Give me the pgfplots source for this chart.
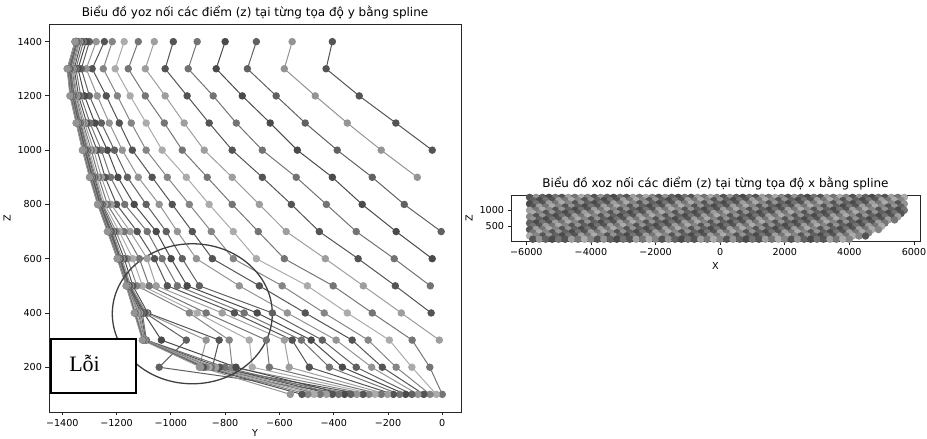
\documentclass[border=0pt]{standalone}
\usepackage{fontspec}
\setmainfont{DejaVu Sans}
\newfontfamily\vnserif{Liberation Serif}
\usepackage{pgfplots}
\usepackage{pgfplotstable}
\pgfplotsset{compat=1.18}

% grey versions of the matplotlib default cycle (scan is greyscale)
\definecolor{g0}{gray}{0.33}
\definecolor{g1}{gray}{0.58}
\definecolor{g2}{gray}{0.38}
\definecolor{g3}{gray}{0.29}
\definecolor{g4}{gray}{0.45}
\definecolor{g5}{gray}{0.33}
\definecolor{g6}{gray}{0.62}
\definecolor{g7}{gray}{0.46}
\definecolor{g8}{gray}{0.67}
\definecolor{g9}{gray}{0.52}

% y position of each line k at every z level (yoz view)
\pgfplotstableread{
z k0 k1 k2 k3 k4 k5 k6 k7 k8 k9 k10 k11 k12 k13 k14 k15 k16 k17 k18 k19 k20 k21 k22 k23 k24 k25 k26 k27 k28 k29 k30 k31
1400 -405 -553 -685 -800 -903 -991 -1061 -1120 -1172 -1216 -1245 -1275 -1300 -1312 -1322 -1330 -1336 -1340 -1343 -1345 -1346 -1347 -1348 -1349 -1350 -1350 -1351 -1351 -1352 -1352 -1353 -1353
1300 -428 -582 -718 -833 -936 -1021 -1094 -1157 -1205 -1249 -1290 -1312 -1330 -1342 -1350 -1356 -1360 -1364 -1367 -1369 -1371 -1373 -1374 -1375 -1376 -1377 -1378 -1379 -1380 -1380 -1381 -1382
1200 -306 -468 -612 -737 -844 -940 -1021 -1094 -1150 -1197 -1238 -1271 -1300 -1318 -1332 -1340 -1346 -1350 -1353 -1356 -1358 -1360 -1362 -1363 -1364 -1365 -1366 -1367 -1368 -1369 -1370 -1372
1100 -171 -350 -505 -634 -759 -859 -951 -1024 -1091 -1146 -1190 -1227 -1256 -1280 -1298 -1310 -1318 -1324 -1328 -1332 -1335 -1337 -1339 -1341 -1342 -1343 -1344 -1345 -1346 -1347 -1348 -1349
1000 -37 -225 -387 -534 -663 -774 -877 -958 -1032 -1091 -1142 -1179 -1208 -1234 -1256 -1272 -1284 -1293 -1300 -1305 -1309 -1312 -1315 -1317 -1319 -1320 -1321 -1322 -1323 -1324 -1325 -1326
900 nan -92 -258 -405 -538 -663 -774 -866 -943 -1013 -1069 -1120 -1160 -1195 -1222 -1242 -1256 -1266 -1273 -1278 -1282 -1285 -1288 -1290 -1292 -1293 -1294 -1295 -1296 -1297 -1298 -1300
800 nan nan -140 -295 -427 -556 -674 -774 -859 -932 -995 -1043 -1091 -1135 -1170 -1200 -1220 -1234 -1244 -1250 -1254 -1257 -1259 -1261 -1263 -1264 -1265 -1266 -1267 -1268 -1269 -1270
700 nan nan -4 -170 -317 -453 -575 -678 -770 -851 -921 -976 -1017 -1054 -1087 -1124 -1150 -1172 -1190 -1202 -1210 -1215 -1219 -1222 -1224 -1226 -1228 -1229 -1230 -1231 -1232 -1234
600 nan nan nan -37 -177 -310 -431 -582 -685 -770 -847 -906 -958 -999 -1032 -1060 -1087 -1116 -1140 -1160 -1172 -1180 -1185 -1188 -1190 -1192 -1193 -1194 -1195 -1196 -1197 -1198
500 nan nan nan nan -44 -173 -291 -402 -497 -590 -674 -748 -895 -940 -976 -1013 -1054 -1080 -1105 -1125 -1140 -1148 -1152 -1155 -1157 -1159 -1160 -1161 -1162 -1163 -1164 -1165
400 nan nan nan nan nan -41 -151 -258 -350 -435 -505 -571 -626 -682 -730 -766 -811 -870 -903 -932 -1085 -1090 -1095 -1100 -1105 -1110 -1115 -1120 -1125 -1130 -1133 -1135
300 nan nan nan nan nan nan -11 -111 -195 -273 -332 -391 -442 -483 -519 -553 -582 -648 -711 -785 -822 -870 -943 -1035 -1090 -1093 -1095 -1097 -1099 -1101 -1103 -1105
200 nan nan nan nan nan nan nan -46 -112 -170 -221 -260 -317 -368 -416 -490 -564 -637 -700 -774 -847 -895 -1043 -760 -800 -820 -835 -850 -860 -870 -880 -890
100 nan nan nan nan nan nan nan 0 -22 -45 -68 -90 -112 -135 -157 -180 -202 -225 -248 -270 -292 -315 -337 -360 -382 -405 -427 -450 -472 -495 -517 -560
}\yoz

% x position of each column c at every z level (xoz view)
\pgfplotstableread{
z c0 c1 c2 c3 c4 c5 c6 c7 c8 c9 c10 c11 c12 c13 c14 c15 c16 c17 c18 c19 c20 c21 c22 c23 c24 c25 c26 c27 c28 c29 c30 c31 c32 c33 c34 c35 c36 c37 c38 c39 c40 c41 c42 c43 c44 c45 c46 c47 c48 c49 c50 c51 c52 c53 c54 c55 c56 c57 c58 c59 c60 c61 c62 c63 c64 c65 c66 c67 c68 c69 c70
1400 -5900 -5700 -5500 -5300 -5100 -4900 -4700 -4500 -4300 -4100 -3900 -3700 -3500 -3300 -3100 -2900 -2700 -2500 -2300 -2100 -1900 -1700 -1500 -1300 -1100 -900 -700 -500 -300 -100 100 300 500 700 900 1100 1300 1500 1700 1900 2100 2300 2500 2700 2900 3100 3300 3500 3700 3900 4100 4300 4500 4700 4900 5100 5300 5500 5700 nan nan nan nan nan nan nan nan nan nan nan nan
1300 nan nan -5800 -5600 -5400 -5200 -5000 -4800 -4600 -4400 -4200 -4000 -3800 -3600 -3400 -3200 -3000 -2800 -2600 -2400 -2200 -2000 -1800 -1600 -1400 -1200 -1000 -800 -600 -400 -200 0 200 400 600 800 1000 1200 1400 1600 1800 2000 2200 2400 2600 2800 3000 3200 3400 3600 3800 4000 4200 4400 4600 4800 5000 5200 5400 5600 nan nan nan nan nan nan nan nan nan nan nan
1200 nan nan nan -5900 -5700 -5500 -5300 -5100 -4900 -4700 -4500 -4300 -4100 -3900 -3700 -3500 -3300 -3100 -2900 -2700 -2500 -2300 -2100 -1900 -1700 -1500 -1300 -1100 -900 -700 -500 -300 -100 100 300 500 700 900 1100 1300 1500 1700 1900 2100 2300 2500 2700 2900 3100 3300 3500 3700 3900 4100 4300 4500 4700 4900 5100 5300 5500 5700 nan nan nan nan nan nan nan nan nan
1100 nan nan nan nan nan -5800 -5600 -5400 -5200 -5000 -4800 -4600 -4400 -4200 -4000 -3800 -3600 -3400 -3200 -3000 -2800 -2600 -2400 -2200 -2000 -1800 -1600 -1400 -1200 -1000 -800 -600 -400 -200 0 200 400 600 800 1000 1200 1400 1600 1800 2000 2200 2400 2600 2800 3000 3200 3400 3600 3800 4000 4200 4400 4600 4800 5000 5200 5400 5600 nan nan nan nan nan nan nan nan
1000 nan nan nan nan nan nan -5900 -5700 -5500 -5300 -5100 -4900 -4700 -4500 -4300 -4100 -3900 -3700 -3500 -3300 -3100 -2900 -2700 -2500 -2300 -2100 -1900 -1700 -1500 -1300 -1100 -900 -700 -500 -300 -100 100 300 500 700 900 1100 1300 1500 1700 1900 2100 2300 2500 2700 2900 3100 3300 3500 3700 3900 4100 4300 4500 4700 4900 5100 5300 5500 5700 nan nan nan nan nan nan
900 nan nan nan nan nan nan nan nan -5800 -5600 -5400 -5200 -5000 -4800 -4600 -4400 -4200 -4000 -3800 -3600 -3400 -3200 -3000 -2800 -2600 -2400 -2200 -2000 -1800 -1600 -1400 -1200 -1000 -800 -600 -400 -200 0 200 400 600 800 1000 1200 1400 1600 1800 2000 2200 2400 2600 2800 3000 3200 3400 3600 3800 4000 4200 4400 4600 4800 5000 5200 5400 5600 nan nan nan nan nan
800 nan nan nan nan nan nan nan nan nan -5900 -5700 -5500 -5300 -5100 -4900 -4700 -4500 -4300 -4100 -3900 -3700 -3500 -3300 -3100 -2900 -2700 -2500 -2300 -2100 -1900 -1700 -1500 -1300 -1100 -900 -700 -500 -300 -100 100 300 500 700 900 1100 1300 1500 1700 1900 2100 2300 2500 2700 2900 3100 3300 3500 3700 3900 4100 4300 4500 4700 4900 5100 5300 5500 nan nan nan nan
700 nan nan nan nan nan nan nan nan nan nan nan -5800 -5600 -5400 -5200 -5000 -4800 -4600 -4400 -4200 -4000 -3800 -3600 -3400 -3200 -3000 -2800 -2600 -2400 -2200 -2000 -1800 -1600 -1400 -1200 -1000 -800 -600 -400 -200 0 200 400 600 800 1000 1200 1400 1600 1800 2000 2200 2400 2600 2800 3000 3200 3400 3600 3800 4000 4200 4400 4600 4800 5000 5200 5400 nan nan nan
600 nan nan nan nan nan nan nan nan nan nan nan nan -5900 -5700 -5500 -5300 -5100 -4900 -4700 -4500 -4300 -4100 -3900 -3700 -3500 -3300 -3100 -2900 -2700 -2500 -2300 -2100 -1900 -1700 -1500 -1300 -1100 -900 -700 -500 -300 -100 100 300 500 700 900 1100 1300 1500 1700 1900 2100 2300 2500 2700 2900 3100 3300 3500 3700 3900 4100 4300 4500 4700 4900 5100 nan nan nan
500 nan nan nan nan nan nan nan nan nan nan nan nan nan nan -5800 -5600 -5400 -5200 -5000 -4800 -4600 -4400 -4200 -4000 -3800 -3600 -3400 -3200 -3000 -2800 -2600 -2400 -2200 -2000 -1800 -1600 -1400 -1200 -1000 -800 -600 -400 -200 0 200 400 600 800 1000 1200 1400 1600 1800 2000 2200 2400 2600 2800 3000 3200 3400 3600 3800 4000 4200 4400 4600 4800 5000 nan nan
400 nan nan nan nan nan nan nan nan nan nan nan nan nan nan nan -5900 -5700 -5500 -5300 -5100 -4900 -4700 -4500 -4300 -4100 -3900 -3700 -3500 -3300 -3100 -2900 -2700 -2500 -2300 -2100 -1900 -1700 -1500 -1300 -1100 -900 -700 -500 -300 -100 100 300 500 700 900 1100 1300 1500 1700 1900 2100 2300 2500 2700 2900 3100 3300 3500 3700 3900 4100 4300 4500 4700 4900 nan
300 nan nan nan nan nan nan nan nan nan nan nan nan nan nan nan nan nan -5800 -5600 -5400 -5200 -5000 -4800 -4600 -4400 -4200 -4000 -3800 -3600 -3400 -3200 -3000 -2800 -2600 -2400 -2200 -2000 -1800 -1600 -1400 -1200 -1000 -800 -600 -400 -200 0 200 400 600 800 1000 1200 1400 1600 1800 2000 2200 2400 2600 2800 3000 3200 3400 3600 3800 4000 4200 4400 4600 nan
200 nan nan nan nan nan nan nan nan nan nan nan nan nan nan nan nan nan nan -5900 -5700 -5500 -5300 -5100 -4900 -4700 -4500 -4300 -4100 -3900 -3700 -3500 -3300 -3100 -2900 -2700 -2500 -2300 -2100 -1900 -1700 -1500 -1300 -1100 -900 -700 -500 -300 -100 100 300 500 700 900 1100 1300 1500 1700 1900 2100 2300 2500 2700 2900 3100 3300 3500 3700 3900 4100 4300 4500
100 nan nan nan nan nan nan nan nan nan nan nan nan nan nan nan nan nan nan nan nan -5800 -5600 -5400 -5200 -5000 -4800 -4600 -4400 -4200 -4000 -3800 -3600 -3400 -3200 -3000 -2800 -2600 -2400 -2200 -2000 -1800 -1600 -1400 -1200 -1000 -800 -600 -400 -200 0 200 400 600 800 1000 1200 1400 1600 1800 2000 2200 2400 2600 2800 3000 3200 3400 3600 3800 4000 nan
}\xoz

\pgfplotsset{
  mpl/.style={
    scale only axis,
    anchor=south west,
    axis line style={black!85, line width=0.8pt},
    tick style={black!85, line width=0.8pt},
    tick align=outside,
    major tick length=3.5pt,
    xtick pos=bottom, ytick pos=left,
    tick label style={font=\fontsize{9.6}{11}\selectfont},
    label style={font=\fontsize{9.6}{11}\selectfont},
    title style={font=\fontsize{12}{14}\selectfont, yshift=-4.5pt},
    cycle list={{g0,mark=*},{g1,mark=*},{g2,mark=*},{g3,mark=*},{g4,mark=*},
                {g5,mark=*},{g6,mark=*},{g7,mark=*},{g8,mark=*},{g9,mark=*}},
    every axis plot/.append style={line width=1pt, mark size=3.2pt},
  },
}

\begin{document}
\begin{tikzpicture}
\useasboundingbox (0,0) rectangle (927pt,439pt);

% ---- left: yoz view ----
\begin{axis}[mpl,
  at={(49pt,27pt)}, width=412pt, height=388pt,
  xmin=-1449, xmax=69, ymin=35, ymax=1465,
  xtick={-1400,-1200,-1000,-800,-600,-400,-200,0},
  xticklabels={−1400,−1200,−1000,−800,−600,−400,−200,0},
  ytick={200,400,600,800,1000,1200,1400},
  yticklabels={200,400,600,800,1000,1200,1400},
  title={Biểu đồ yoz nối các điểm (z) tại từng tọa độ y bằng spline},
  xlabel={Y}, ylabel={Z},
  xlabel style={yshift=4pt},
]
\pgfplotsinvokeforeach{0,...,31}{\addplot table[x=k#1,y=z]{\yoz};}
\draw[black!75, line width=1.3pt] (axis cs:-921,397) ellipse [x radius=80pt, y radius=70pt];
\draw[black, line width=1.4pt, fill=white] (axis cs:-1441,105) rectangle (axis cs:-1128,304);
\node[font=\vnserif\fontsize{22}{24}\selectfont] at (axis cs:-1318,213) {Lỗi};
\end{axis}

% ---- right: xoz view ----
\begin{axis}[mpl,
  at={(511pt,197.7pt)}, width=409pt, height=46pt,
  xmin=-6475, xmax=6187, ymin=35, ymax=1465,
  xtick={-6000,-4000,-2000,0,2000,4000,6000},
  xticklabels={−6000,−4000,−2000,0,2000,4000,6000},
  ytick={500,1000}, yticklabels={500,1000},
  title={Biểu đồ xoz nối các điểm (z) tại từng tọa độ x bằng spline},
  xlabel={X}, ylabel={Z},
]
\pgfplotsinvokeforeach{0,...,70}{\addplot table[x=c#1,y=z]{\xoz};}
\end{axis}
\end{tikzpicture}
\end{document}
